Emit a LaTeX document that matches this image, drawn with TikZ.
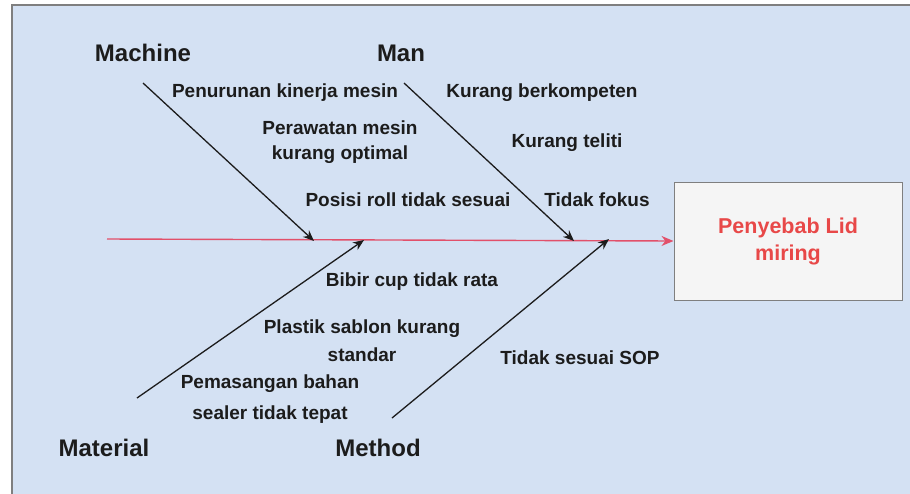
\documentclass[tikz,border=0pt]{standalone}
\usepackage{fontspec}
\setmainfont{Liberation Sans}
\usetikzlibrary{arrows.meta}
\definecolor{bgblue}{HTML}{D4E1F3}
\definecolor{frame}{HTML}{7F7F7F}
\definecolor{boxfill}{HTML}{F5F5F5}
\definecolor{spinered}{HTML}{E2506A}
\definecolor{titlered}{HTML}{E84848}
\definecolor{ink}{HTML}{1C1C1C}
\begin{document}
\begin{tikzpicture}[x=1pt,y=-1pt,
  cause/.style={font=\bfseries\fontsize{19}{25}\selectfont,text=ink,inner sep=0pt,align=center},
  head/.style={font=\bfseries\fontsize{24}{28}\selectfont,text=ink,inner sep=0pt},
  bone/.style={draw=ink,line width=1.3pt,-{Stealth[length=11pt,width=9pt]}},
  spine/.style={draw=spinered,line width=1.4pt,-{Stealth[length=12pt,width=10pt]}},
  effect/.style={draw=frame,line width=1pt,fill=boxfill,minimum width=228pt,minimum height=118pt,
    font=\bfseries\fontsize{21.5}{27}\selectfont,text=titlered,align=center}]
\useasboundingbox (0,0) rectangle (910,493);
\fill[white] (0,0) rectangle (910,493);
\path[fill=bgblue,draw=frame,line width=2pt] (12,5) rectangle (920,503);
% effect box
\node[effect] (effect) at (788,241) {Penyebab Lid\\miring};
% spine
\coordinate (tail) at (107,239);
\draw[spine] (tail) -- (effect.west);
% category labels
\node[head] (machine) at (143,53) {Machine};
\node[head] (man) at (401,53) {Man};
\node[head] (material) at (104,448) {Material};
\node[head] (method) at (378,448) {Method};
% bone coordinates
\coordinate (machineS) at (143,83);
\coordinate (machineE) at (314,241);
\coordinate (manS) at (404,83);
\coordinate (manE) at (574,241);
\coordinate (materialS) at (137,398);
\coordinate (materialE) at (364,240);
\coordinate (methodS) at (392,418);
\coordinate (methodE) at (609,239);
\draw[bone] (machineS) -- (machineE);
\draw[bone] (manS) -- (manE);
\draw[bone] (materialS) -- (materialE);
\draw[bone] (methodS) -- (methodE);
% causes
\node[cause] (c1) at (285,93) {Penurunan kinerja mesin};
\node[cause] (c2) at (340,142.5) {Perawatan mesin\\kurang optimal};
\node[cause] (c3) at (408,200) {Posisi roll tidak sesuai};
\node[cause] (c4) at (542,93) {Kurang berkompeten};
\node[cause] (c5) at (567,143) {Kurang teliti};
\node[cause] (c6) at (597,200) {Tidak fokus};
\node[cause] (c7) at (412,282) {Bibir cup tidak rata};
\node[cause] (c8) at (362,341) {Plastik sablon kurang\\[3pt]standar};
\node[cause] (c9) at (270,399.5) {Pemasangan bahan\\[6pt]sealer tidak tepat};
\node[cause] (c10) at (580,358) {Tidak sesuai SOP};
\end{tikzpicture}
\end{document}
